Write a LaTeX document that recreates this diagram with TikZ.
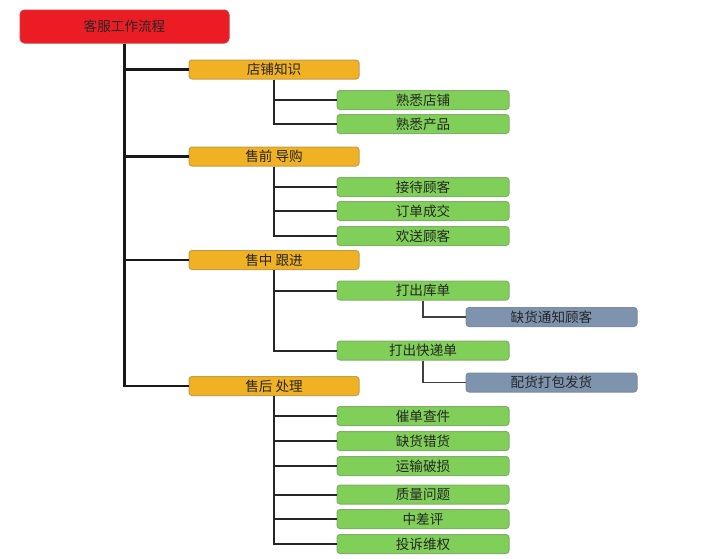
\documentclass[tikz,border=0pt]{standalone}
\usepackage{fontspec}
\newfontfamily\cjk{Noto Sans CJK SC}
\begin{document}
\begin{tikzpicture}[x=1pt,y=-1pt,
  box/.style={rounded corners=3pt, inner sep=0pt, font=\cjk\fontsize{13.6}{15}\selectfont, text=black!85, line width=1pt},
  rootbox/.style={box, rounded corners=4.5pt, fill=rootred, draw=rootred!70!gray, minimum width=209pt, minimum height=33pt},
  catbox/.style={box, fill=catorange, draw=catorange!60!gray, minimum width=170pt, minimum height=19pt},
  itembox/.style={box, fill=itemgreen, draw=itemgreen!60!gray, minimum width=172pt, minimum height=19pt},
  subbox/.style={box, fill=subblue, draw=subblue!70!gray, minimum width=171pt, minimum height=19pt},
  trunk/.style={line width=2.6pt, black!90},
  branch/.style={line width=2pt, black!85},
  twig/.style={line width=1.3pt, black!75},
]
\definecolor{rootred}{HTML}{EC1C24}
\definecolor{catorange}{HTML}{F0B123}
\definecolor{itemgreen}{HTML}{80CF58}
\definecolor{subblue}{HTML}{7E93AD}
\useasboundingbox[fill=white] (0,0) rectangle (720,558);

\node[rootbox] (root) at (124.5,26.5) {客服工作流程};

\node[catbox] (c1) at (274,69.5) {店铺知识};
\node[catbox] (c2) at (274,156.5) {售前 导购};
\node[catbox] (c3) at (274,260) {售中 跟进};
\node[catbox] (c4) at (274,386) {售后 处理};

\node[itembox] (g1) at (423,100) {熟悉店铺};
\node[itembox] (g2) at (423,124) {熟悉产品};
\node[itembox] (g3) at (423,187) {接待顾客};
\node[itembox] (g4) at (423,211) {订单成交};
\node[itembox] (g5) at (423,236) {欢送顾客};
\node[itembox] (g6) at (423,290.5) {打出库单};
\node[itembox] (g7) at (423,350.5) {打出快递单};
\node[itembox] (g8) at (423,416) {催单查件};
\node[itembox] (g9) at (423,441) {缺货错货};
\node[itembox] (g10) at (423,466) {运输破损};
\node[itembox] (g11) at (423,494.5) {质量问题};
\node[itembox] (g12) at (423,519) {中差评};
\node[itembox] (g13) at (423,544) {投诉维权};

\node[subbox] (b1) at (551.5,317) {缺货通知顾客};
\node[subbox] (b2) at (551.5,382.5) {配货打包发货};

\foreach \c in {c1,c2,c3,c4}
  \draw[trunk] (root.south) |- (\c.west);

\foreach \g in {g1,g2} \draw[branch] (c1.south) |- (\g.west);
\foreach \g in {g3,g4,g5} \draw[branch] (c2.south) |- (\g.west);
\foreach \g in {g6,g7} \draw[branch] (c3.south) |- (\g.west);
\foreach \g in {g8,g9,g10,g11,g12,g13} \draw[branch] (c4.south) |- (\g.west);

\draw[twig] (g6.south) |- (b1.west);
\draw[twig] (g7.south) |- (b2.west);
\end{tikzpicture}
\end{document}
